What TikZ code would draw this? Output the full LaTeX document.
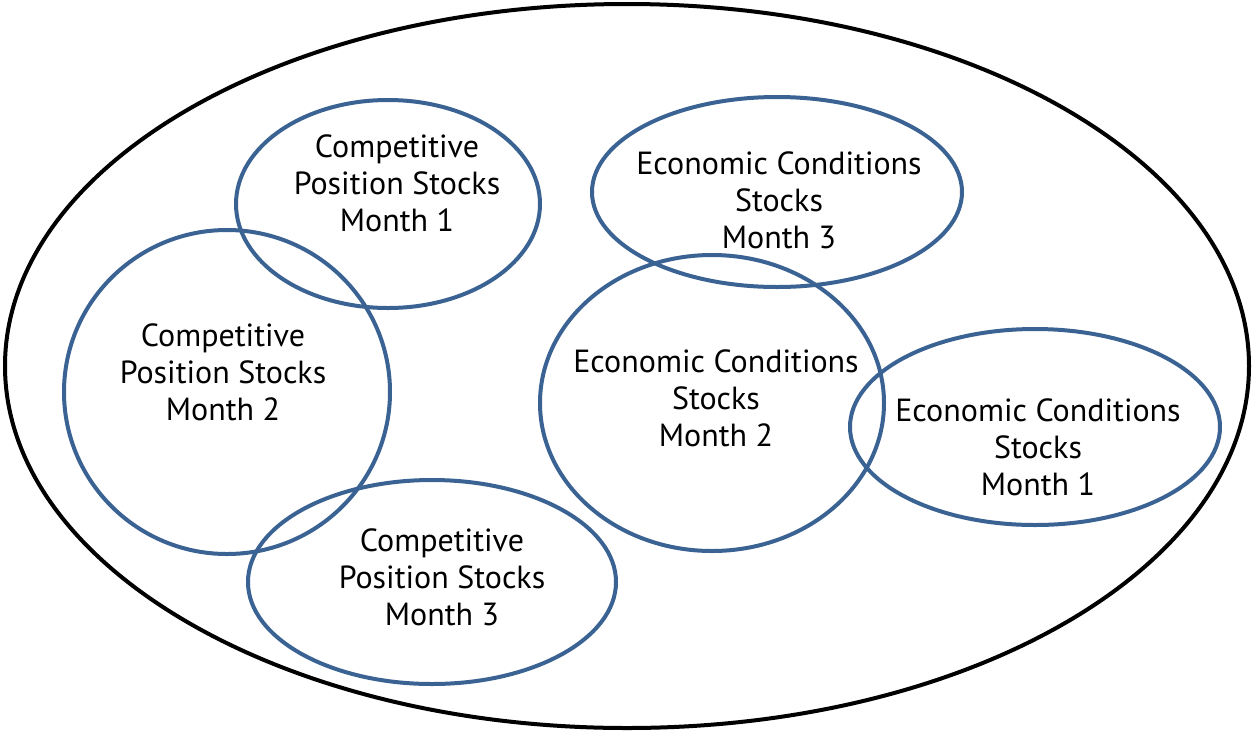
\documentclass[tikz,border=0pt]{standalone}
\usepackage{fontspec}
\setmainfont{PT Sans}
\usetikzlibrary{shapes.geometric}
\definecolor{ringblue}{HTML}{3A6394}
\begin{document}
\begin{tikzpicture}[x=1pt,y=-1pt]
        \useasboundingbox (0,0) rectangle (1254,732);

        \node[ellipse,draw,line width=4pt,inner sep=0pt,minimum width=1244pt,minimum height=724pt] (all) at (627,366) {};

        \begin{scope}[every node/.style={ellipse,draw=ringblue,line width=4pt,inner sep=0pt}]
          \node[minimum width=304pt,minimum height=208pt] (cp1) at (388,204) {};
          \node[minimum width=326pt,minimum height=324pt] (cp2) at (227,392) {};
          \node[minimum width=368pt,minimum height=204pt] (cp3) at (432,582) {};
          \node[minimum width=370pt,minimum height=190pt] (ec3) at (777,192) {};
          \node[minimum width=344pt,minimum height=296pt] (ec2) at (712,403) {};
          \node[minimum width=370pt,minimum height=196pt] (ec1) at (1035,427) {};
        \end{scope}

        \begin{scope}[every node/.style={align=center,font=\fontsize{32}{37}\selectfont}]
          \node (cp1text) at (397,183) {Competitive\\Position Stocks\\Month 1};
          \node (cp2text) at (223,372) {Competitive\\Position Stocks\\Month 2};
          \node (cp3text) at (442,577) {Competitive\\Position Stocks\\Month 3};
          \node (ec3text) at (779,200) {Economic Conditions\\Stocks\\Month 3};
          \node (ec2text) at (716,398) {Economic Conditions\\Stocks\\Month 2};
          \node (ec1text) at (1038,447) {Economic Conditions\\Stocks\\Month 1};
        \end{scope}

      \end{tikzpicture}
\end{document}
